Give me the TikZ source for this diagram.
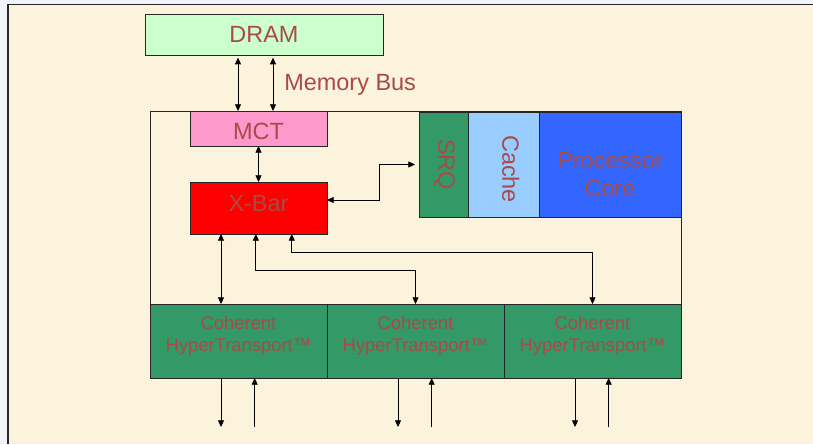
\documentclass[tikz,border=0pt]{standalone}
\usepackage{fontspec}
\setmainfont{Liberation Sans}
\usepackage{graphicx}
\usepackage{tikz}
\usetikzlibrary{positioning, arrows.meta}

\definecolor{lavender}{RGB}{242,243,250}
\definecolor{paper}{RGB}{251,243,219}
\definecolor{txt}{RGB}{168,74,74}
\definecolor{dramc}{RGB}{204,255,204}
\definecolor{mctc}{RGB}{255,153,204}
\definecolor{greenc}{RGB}{51,153,102}
\definecolor{cachec}{RGB}{153,204,255}
\definecolor{corec}{RGB}{51,102,255}

% text set on a zero-size box, baseline moved by #1
\newcommand{\atbase}[2]{\raisebox{#1}[0pt][0pt]{#2}}
\newcommand{\upright}[3]{\rotatebox{-90}{\makebox[0pt]{\raisebox{#1}[0pt][0pt]{\hspace*{#2}#3}}}}

\begin{document}
\begin{tikzpicture}[
        x=0.75pt, y=-0.75pt,
        blk/.style={draw=black!85, line width=0.75pt, inner sep=0pt, outer sep=0pt,
          anchor=north west, text=txt, font=\fontsize{17.6}{21}\selectfont},
        ht/.style={blk, fill=greenc, minimum width=132.75pt, minimum height=55.5pt,
          font=\fontsize{13.8}{16.5}\selectfont},
        one/.style={line width=0.6pt, -{Triangle[length=5pt,width=4.5pt]}},
        two/.style={line width=0.6pt, {Triangle[length=5pt,width=4.5pt]}-{Triangle[length=5pt,width=4.5pt]}},
      ]
      \useasboundingbox (0,0) rectangle (813,444);
      \fill[lavender] (0,0) rectangle (813,444);
      \fill[paper] (8,4.5) rectangle (813,444);
      \draw[line width=1.1pt, black!85] (8,444) -- (8,4.5) -- (813,4.5);
      % chip outline
      \draw[line width=0.75pt, black!85] (150,111) rectangle (681,378);

      \node[blk, fill=dramc, minimum width=178.5pt, minimum height=30.75pt] (dram) at (145,14) {DRAM};
      \node[blk, fill=mctc, minimum width=102.75pt, minimum height=26.25pt] (mct) at (190,111) {\atbase{-7.9pt}{MCT}};
      \node[blk, fill=red, minimum width=102.75pt, minimum height=39pt] (xbar) at (190,182) {\atbase{-2.5pt}{X-Bar}};
      \node[blk, fill=greenc, minimum width=36.75pt, minimum height=78.75pt] (srq) at (419,112) {\upright{-3.9pt}{0pt}{SRQ}};
      \node[blk, fill=cachec, minimum width=53.25pt, minimum height=78.75pt] (cache) at (srq.north east) {\upright{-0.8pt}{6.75pt}{Cache}};
      \node[blk, fill=corec, minimum width=106.5pt, minimum height=78.75pt] (core) at (cache.north east)
        {\atbase{-24pt}{\begin{tabular}[b]{@{}c@{}}Processor\\Core\end{tabular}}};
      \node[anchor=base west, inner sep=0pt, text=txt, font=\fontsize{17.6}{21}\selectfont] (bus) at (284,90.7) {Memory Bus};

      \foreach \i in {1,2,3}{
        \node[ht] (ht\i) at ({150+177*(\i-1)},304)
          {\atbase{-7.5pt}{\begin{tabular}[b]{@{}c@{}}Coherent\\HyperTransport\texttrademark\end{tabular}}};
        \coordinate (dn\i) at ([xshift=53.25pt, yshift=-36.75pt]ht\i.south west);
        \coordinate (up\i) at ([xshift=78.5pt, yshift=-36.75pt]ht\i.south west);
        \draw[one] (ht\i.south west -| dn\i) -- (dn\i);
        \draw[one] (up\i) -- (ht\i.south west -| up\i);
      }

      % memory bus
      \draw[two, shorten >=2pt] ([xshift=36pt]mct.north west) -- ([xshift=36pt]mct.north west |- dram.south);
      \draw[two, shorten >=2pt] ([xshift=62.25pt]mct.north west) -- ([xshift=62.25pt]mct.north west |- dram.south);
      \draw[two] (mct) -- (xbar);
      \draw[two, shorten >=3pt] ([yshift=6pt]xbar.east) -- ++(52,0) |- (srq.west);
      % crossbar to links
      \draw[two] ([xshift=23.25pt]xbar.south west) -- (dn1 |- ht1.north);
      \draw[two] ([xshift=-2pt]xbar.south) -- ++(0,36) -| (ht2.north);
      \draw[two] ([xshift=76.35pt]xbar.south west) -- ++(0,18) -| (ht3.north);
    \end{tikzpicture}
\end{document}
